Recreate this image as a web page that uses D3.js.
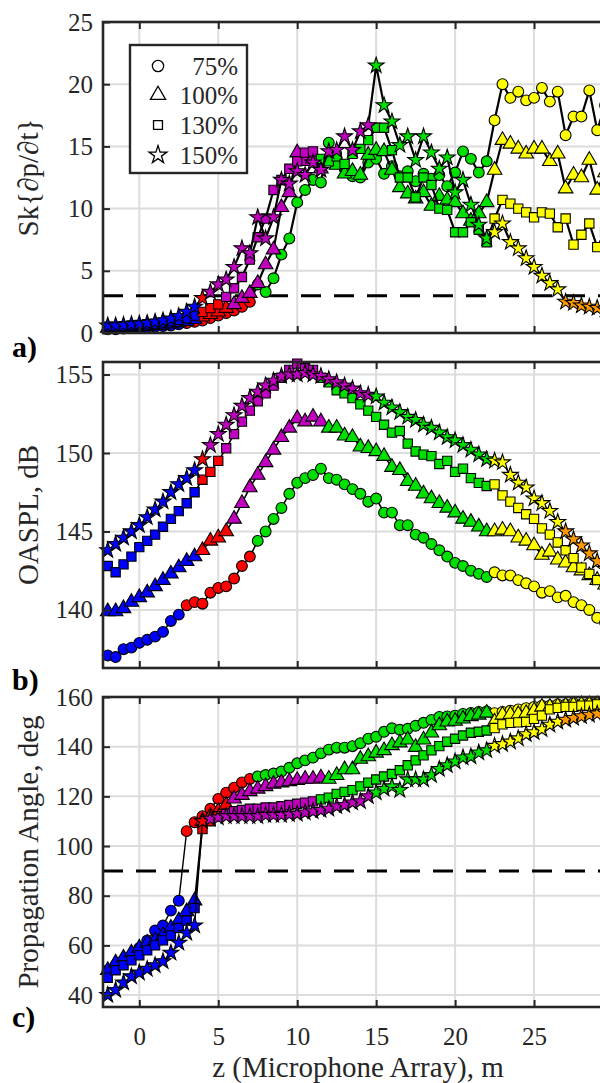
<!DOCTYPE html>
<html>
<head>
<meta charset="utf-8">
<script src="https://cdn.jsdelivr.net/npm/d3@7"></script>
<style>body{margin:0;background:#fff}</style>
</head>
<body>
<svg id="chart" width="600" height="1083"></svg>
<script>
// Microphone positions along the array, m
const zPositions = [-2,-1.5,-1,-0.5,0,0.5,1,1.5,2,2.5,3,3.5,4,4.5,5,5.5,6,6.5,7,7.5,8,8.5,9,9.5,10,10.5,11,11.5,12,12.5,13,13.5,14,14.5,15,15.5,16,16.5,17,17.5,18,18.5,19,19.5,20,20.5,21,21.5,22,22.5,23,23.5,24,24.5,25,25.5,26,26.5,27,27.5,28,28.5,29,29.5,30];

// a) derivative skewness
const skew75  = [0.3,0.3,0.35,0.4,0.4,0.45,0.5,0.55,0.6,0.7, 0.8,0.9,1.0,1.2,1.4,1.6,1.8,2.1,2.5,3.9, 3.3,4.4,6.3,7.6,10.5,11.5,12.3,12.1,15.3,14.0, 13.2,12.6,12.5,13.7,14.0,12.8,13.4,12.6,13.0,12.2, 12.8,12.4,12.7,11.8,12.9,14.6,14.0,12.9,13.8,17.1, 20.0,18.9,19.4,18.7,18.9,19.7,18.6,19.4,15.9,17.4, 17.4,19.5,16.3,18.3,17.5];
const skew100 = [0.4,0.4,0.45,0.5,0.5,0.55,0.6,0.65,0.75,0.85, 0.95,1.1,1.3,1.5,1.7,2.0,2.3,2.8,3.2,4.0, 5.5,6.7,10.1,11.3,14.5,13.8,14.0,13.2,14.2,13.5, 12.8,13.0,12.7,14.3,14.7,14.6,13.1,11.7,11.2,10.8, 11.3,10.2,11.0,10.7,10.5,9.6,9.0,9.6,10.5,13.1, 15.5,15.2,14.8,14.4,14.8,14.8,13.8,14.4,11.6,12.7, 12.5,13.9,11.5,12.9,12.3];
const skew130 = [0.5,0.5,0.55,0.6,0.65,0.7,0.75,0.85,0.95,1.05, 1.2,1.4,1.7,2.0,2.3,2.9,3.6,4.5,5.9,7.7, 9.2,11.5,12.3,13.2,13.8,14.5,14.6,14.0,13.8,14.2, 13.6,14.4,14.8,15.5,16.5,16.5,14.7,12.5,12.5,10.9, 12.5,11.9,10.0,9.9,8.1,8.1,8.9,8.3,7.3,9.2, 10.7,10.4,10.0,9.7,9.3,9.7,9.6,8.5,9.2,7.1, 7.9,8.8,6.9,8.1,7.5];
const skew150 = [0.6,0.6,0.65,0.7,0.75,0.8,0.9,1.0,1.15,1.35, 1.7,2.1,2.8,3.3,3.9,4.3,5.3,6.8,6.4,9.3, 7.6,9.3,12.3,12.0,13.0,12.7,13.7,13.1,14.6,14.7, 15.8,14.7,16.2,16.7,21.5,18.3,17.0,15.1,15.8,13.9, 15.8,14.5,13.2,14.1,11.3,12.3,10.3,8.7,7.6,8.1, 8.8,7.3,6.8,6.0,5.3,4.6,4.0,3.5,2.5,2.4, 2.2,2.1,2.0,1.9,1.8];

// b) overall sound pressure level, dB
const oaspl75  = [137.1,137.0,137.5,137.6,137.9,138.1,138.3,138.6,139.3,139.7, 140.3,140.5,140.4,141.1,141.4,141.5,142.0,142.8,143.4,144.4, 145.0,145.8,146.5,147.4,148.1,148.4,148.6,149.0,148.4,148.3, 148.0,147.7,147.4,146.9,147.1,146.2,146.2,145.4,145.4,144.8, 144.6,144.2,143.8,143.4,143.0,142.8,142.5,142.3,142.1,142.4, 142.2,142.2,141.9,141.7,141.5,141.1,141.2,140.8,140.9,140.5, 140.3,140.0,139.5,139.2,139.0];
const oaspl100 = [139.9,139.9,140.1,140.5,140.8,141.1,141.5,141.9,142.3,142.7, 143.1,143.4,143.8,144.4,144.6,145.0,145.8,146.8,147.8,148.6, 149.4,150.2,151.0,151.6,152.2,152.0,152.3,152.0,151.6,151.6, 151.1,151.0,150.4,150.3,150.1,149.8,149.1,148.9,148.2,147.9, 147.4,147.1,146.8,146.5,146.2,145.8,145.6,145.3,145.0,145.0, 145.1,145.0,144.6,144.4,144.1,143.5,143.7,143.2,143.0,142.7, 142.5,142.2,141.9,141.6,141.4];
const oaspl130 = [142.8,142.4,142.9,143.4,144.0,144.4,144.8,145.3,145.8,146.3, 146.8,147.5,148.3,148.8,149.5,150.3,151.2,152.0,152.7,153.3, 153.8,154.3,154.8,155.3,155.7,155.4,155.3,154.8,154.5,154.0, 153.8,153.5,153.1,152.7,152.3,151.8,151.3,151.4,150.6,150.1, 149.9,149.8,149.3,149.5,148.8,149.0,148.4,148.1,147.9,148.0, 147.3,146.9,146.5,146.1,145.8,145.2,144.8,144.3,143.8,143.3, 142.7,142.3,141.9,141.5,141.2];
const oaspl150 = [143.8,144.2,144.6,145.0,145.4,145.9,146.4,146.9,147.5,148.0, 148.4,148.9,149.6,150.5,151.2,151.8,152.4,153.0,153.5,153.9, 154.3,154.6,154.9,155.0,155.0,155.1,155.0,154.9,154.7,154.5, 154.3,154.1,153.8,153.7,153.6,153.2,152.9,152.6,152.3,152.1, 151.8,151.6,151.3,151.0,150.8,150.5,150.2,149.9,149.6,149.5, 149.4,148.6,148.1,147.8,147.1,146.8,146.3,145.6,145.0,144.5, 144.1,143.6,143.1,142.6,142.2];

// c) propagation angle, deg
const angle75  = [50,52,54,56,59,62,66,68,74,78, 106,109.6,112,115,119,121.5,123.5,125.6,127,128, 128.6,129.2,130,131.5,133.3,134.5,135.6,137.3,138.8,139.6, 139.6,140.2,141.4,143.2,144,146,147.4,146.8,147.2,148.4, 149.6,150.8,152,152.2,152.5,153.2,153.6,154,154.2,153.5, 154,154.5,155,155.5,156,156.5,156.5,157,157,157.5, 157,157.5,157.5,158,157.5];
const angle100 = [50,53,55,57,59,61,62,64,67,70, 73.6,78,110,112,114,116.5,119,120.5,122,123, 124,125,125.5,126,126.5,127,127,127.5,127,128.5, 130.8,130.8,135,136,137.5,138.5,140.5,141.6,142.8,139.8, 142.8,145.6,148.5,150,150.3,151.2,152.2,152.8,153.6,150, 152.8,153,153,153.5,154.5,156,156,156.3,156.5,156.8, 157,157,157,157.3,157];
const angle130 = [47,50,52,54,56,58,60,62,64,67, 70,75,106.8,110,112,113,114,114.5,115,115, 115.5,115.5,116,116.5,117,117.5,118,118.8,119.5,121, 121.8,122.5,124,125.5,126.8,128,129,130.5,132.5,134.5, 136.5,138.5,140.2,142,143.2,144.5,145.6,146,146.5,147.5, 149,149.6,149.8,150,151.2,152.5,155,155.6,156,156, 156.5,156.5,157,157,157];
const angle150 = [40,42,45,47.5,49,50.5,52,53.6,57,61, 65,68,110,111,111.5,112,112,112,112,112, 112.5,112.5,112.5,112.8,113,113.5,114,114.5,115,116, 116.5,117.5,118,120,121.5,123,124,122.5,126.8,126.8, 126.8,128.5,131,132.5,134,135.6,136,137.6,138.5,140.3, 141,142,143.3,145,145.8,147,148.8,150,150.8,151.5, 152.2,152.8,153.3,153.8,154];

// Conditions and the z where each flow region ends (blue, red, purple, green, yellow; orange beyond)
const conditions = ["75%", "100%", "130%", "150%"];
const regionEnds75  = [2.6, 7.1, 7.1, 22.2, 99];
const regionEnds100 = [3.9, 5.9, 11.9, 22.2, 99];
const regionEnds130 = [3.9, 5.4, 11.2, 22.2, 99];
const regionEnds150 = [3.9, 4.4, 14.7, 22.2, 26.7];
const regionColors = ["#0000ff", "#ff0000", "#bf00bf", "#00e000", "#ffff00", "#ff9900"];

// Axis ticks (the 30 m tick sits on the clipped right edge, so it carries no label)
const xTicks = [0, 5, 10, 15, 20, 25, 30];
const xTickLabels = ["0", "5", "10", "15", "20", "25", ""];
const skewTicks = [0, 5, 10, 15, 20, 25];
const oasplTicks = [140, 145, 150, 155];
const angleTicks = [40, 60, 80, 100, 120, 140, 160];

const FONT = "Liberation Serif, Times New Roman, serif";
const INK = "#262626";
const svg = d3.select("#chart");

const x = d3.scaleLinear().domain([-2.3, 30]).range([103, 613]);

const shapes = [d3.symbolCircle, d3.symbolTriangle, d3.symbolSquare, d3.symbolStar];
const shapeSizes = [92, 92, 86, 78];
const regionEnds = [regionEnds75, regionEnds100, regionEnds130, regionEnds150];

function regionColor(cond, z) {
  const i = regionEnds[cond].findIndex(e => z < e);
  return regionColors[i < 0 ? 5 : i];
}

const panels = [
  { series: [skew75, skew100, skew130, skew150], domain: [0, 25], range: [333, 22],
    ticks: skewTicks, label: "Sk{\u2202p/\u2202t}", letter: "a)", letterY: 357, ref: 3, lineW: 2.2 },
  { series: [oaspl75, oaspl100, oaspl130, oaspl150], domain: [136.3, 155.8], range: [668, 362],
    ticks: oasplTicks, label: "OASPL, dB", letter: "b)", letterY: 690, ref: null, lineW: 1.6 },
  { series: [angle75, angle100, angle130, angle150], domain: [35.2, 160], range: [1007, 697],
    ticks: angleTicks, label: "Propagation Angle, deg", letter: "c)", letterY: 1027, ref: 90, lineW: 1.4 }
];

panels.forEach((p, pi) => {
  const y = d3.scaleLinear().domain(p.domain).range(p.range);
  const top = p.range[1], bottom = p.range[0];
  const g = svg.append("g");

  // grid
  g.selectAll(".gx").data(xTicks).join("line")
    .attr("x1", d => x(d)).attr("x2", d => x(d)).attr("y1", top).attr("y2", bottom)
    .attr("stroke", "#dcdcdc").attr("stroke-width", 2);
  g.selectAll(".gy").data(p.ticks).join("line")
    .attr("x1", x.range()[0]).attr("x2", x.range()[1]).attr("y1", d => y(d)).attr("y2", d => y(d))
    .attr("stroke", "#dcdcdc").attr("stroke-width", 2);

  // reference level
  if (p.ref !== null) {
    g.append("line")
      .attr("x1", x.range()[0]).attr("x2", x.range()[1])
      .attr("y1", y(p.ref)).attr("y2", y(p.ref))
      .attr("stroke", "#000").attr("stroke-width", 3).attr("stroke-dasharray", "20,13");
  }

  // series: connecting line then coloured markers
  p.series.forEach((vals, ci) => {
    const pts = zPositions.map((z, i) => ({ z, v: vals[i] }));
    g.append("path").datum(pts)
      .attr("fill", "none").attr("stroke", "#000").attr("stroke-width", p.lineW)
      .attr("stroke-linejoin", "round")
      .attr("d", d3.line().x(d => x(d.z)).y(d => y(d.v)));
    const sym = d3.symbol().type(shapes[ci]).size(shapeSizes[ci]);
    g.selectAll(null).data(pts).join("path")
      .attr("transform", d => `translate(${x(d.z)},${y(d.v)})`)
      .attr("d", sym)
      .attr("fill", d => regionColor(ci, d.z))
      .attr("stroke", "#000").attr("stroke-width", 1.1);
  });

  // frame
  g.append("rect")
    .attr("x", x.range()[0]).attr("y", top)
    .attr("width", x.range()[1] - x.range()[0]).attr("height", bottom - top)
    .attr("fill", "none").attr("stroke", INK).attr("stroke-width", 2.6);

  // axes with inward ticks
  const yAxis = g.append("g").attr("transform", `translate(${x.range()[0]},0)`)
    .call(d3.axisLeft(y).tickValues(p.ticks).tickSizeInner(-7).tickSizeOuter(0).tickPadding(10));
  const topAxis = g.append("g").attr("transform", `translate(0,${top})`)
    .call(d3.axisTop(x).tickValues(xTicks).tickSizeInner(-7).tickSizeOuter(0).tickFormat(""));
  const botAxis = g.append("g").attr("transform", `translate(0,${bottom})`)
    .call(d3.axisBottom(x).tickValues(xTicks).tickSizeInner(-7).tickSizeOuter(0).tickPadding(20)
      .tickFormat((d, i) => pi === 2 ? xTickLabels[i] : ""));
  [yAxis, topAxis, botAxis].forEach(a => {
    a.select(".domain").remove();
    a.selectAll("line").attr("stroke", INK).attr("stroke-width", 2);
    a.selectAll("text").attr("font-family", FONT).attr("font-size", 25).attr("fill", INK);
  });

  // axis title
  svg.append("text")
    .attr("transform", `translate(28,${(top + bottom) / 2}) rotate(-90)`)
    .attr("text-anchor", "middle").attr("dy", "0.35em")
    .attr("font-family", FONT).attr("font-size", 29).attr("fill", INK)
    .text(p.label);

  // panel letter
  svg.append("text")
    .attr("x", 12).attr("y", p.letterY)
    .attr("font-family", FONT).attr("font-size", 30).attr("font-weight", "bold").attr("fill", "#000")
    .text(p.letter);
});

// x-axis title
svg.append("text")
  .attr("x", (x.range()[0] + x.range()[1]) / 2).attr("y", 1077)
  .attr("text-anchor", "middle")
  .attr("font-family", FONT).attr("font-size", 29).attr("fill", INK)
  .text("z (Microphone Array), m");

// legend
const legend = svg.append("g");
legend.append("rect")
  .attr("x", 130).attr("y", 45).attr("width", 117).attr("height", 128)
  .attr("fill", "#fff").attr("stroke", INK).attr("stroke-width", 2.4);
const legendRows = [66, 95, 125, 155];
const legendSizes = [100, 100, 80, 100];
conditions.forEach((c, i) => {
  legend.append("path")
    .attr("transform", `translate(158,${legendRows[i]})`)
    .attr("d", d3.symbol().type(shapes[i]).size(legendSizes[i]))
    .attr("fill", "#fff").attr("stroke", "#000").attr("stroke-width", 1.3);
  legend.append("text")
    .attr("x", 238).attr("y", legendRows[i]).attr("dy", "0.35em")
    .attr("text-anchor", "end")
    .attr("font-family", FONT).attr("font-size", 25).attr("fill", INK)
    .text(c);
});
</script>
</body>
</html>
